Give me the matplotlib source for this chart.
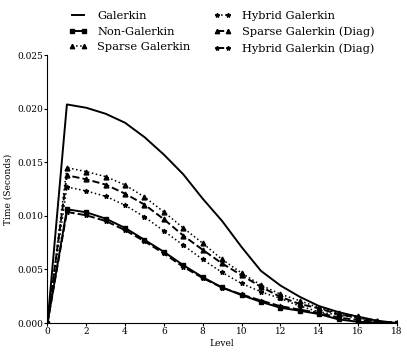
import matplotlib
matplotlib.use("Agg")
import matplotlib.pyplot as plt

levels = list(range(0, 19))

galerkin = [0.0, 0.02039, 0.02008, 0.01952, 0.01868, 0.01734, 0.01571, 0.01387, 0.0116,
            0.00952, 0.0071, 0.00487, 0.00351, 0.00245, 0.00158, 0.00102, 0.00059, 0.00021, 0.0]
non_galerkin = [0.0, 0.01061, 0.01033, 0.00974, 0.00887, 0.00776, 0.00664, 0.0054, 0.00428,
                0.00332, 0.00261, 0.00198, 0.00143, 0.00115, 0.00084, 0.00034, 0.00012, 0.00005, 0.0]
sparse_galerkin = [0.0, 0.0145, 0.01412, 0.01366, 0.01288, 0.01176, 0.01036, 0.00887, 0.00745,
                   0.00593, 0.00468, 0.00354, 0.0027, 0.00208, 0.00143, 0.0009, 0.00065, 0.0002, 0.0]
hybrid_galerkin = [0.0, 0.01269, 0.01232, 0.01182, 0.01099, 0.0099, 0.00859, 0.00726, 0.00593,
                   0.00472, 0.0037, 0.00291, 0.0023, 0.00158, 0.00105, 0.00074, 0.00047, 0.00015, 0.0]
sparse_diag = [0.0, 0.01378, 0.01341, 0.01291, 0.01207, 0.01105, 0.00968, 0.00816, 0.00683,
               0.00556, 0.00447, 0.00338, 0.00245, 0.00177, 0.00137, 0.00081, 0.00053, 0.0002, 0.0]
hybrid_diag = [0.0, 0.01036, 0.01005, 0.00952, 0.00866, 0.00763, 0.00649, 0.00524, 0.0042,
               0.0033, 0.00267, 0.0021, 0.00158, 0.00125, 0.00095, 0.0005, 0.0003, 0.0001, 0.0]

xticks = [0, 2, 4, 6, 8, 10, 12, 14, 16, 18]
yticks = [0.000, 0.005, 0.010, 0.015, 0.020, 0.025]

plt.rcParams['font.family'] = ['DejaVu Serif']

fig = plt.figure(figsize=(4.07, 3.55), dpi=100)
ax = fig.add_axes([0.1167, 0.09, 0.858, 0.755])

ms = 3.5
ax.plot(levels, galerkin, '-', color='black', lw=1.4, label='Galerkin')
ax.plot(levels, non_galerkin, '-', color='black', lw=1.4, marker='s', ms=ms, label='Non-Galerkin')
ax.plot(levels, sparse_galerkin, ':', color='black', lw=1.1, marker='^', ms=ms, label='Sparse Galerkin')
ax.plot(levels, hybrid_galerkin, ':', color='black', lw=1.1, marker='*', ms=ms, label='Hybrid Galerkin')
ax.plot(levels, sparse_diag, '--', color='black', lw=1.4, marker='^', ms=ms, label='Sparse Galerkin (Diag)')
ax.plot(levels, hybrid_diag, '--', color='black', lw=1.4, marker='*', ms=ms, label='Hybrid Galerkin (Diag)')

ax.set_xlim(0, 18)
ax.set_ylim(0, 0.025)
ax.set_xticks(xticks)
ax.set_yticks(yticks)
ax.set_yticklabels(['%.3f' % v for v in yticks])
ax.tick_params(labelsize=6.5, direction='out', length=2, pad=0.8, top=False, right=False)
ax.spines['top'].set_visible(False)
ax.spines['right'].set_visible(False)
ax.set_xlabel('Level', fontsize=6.5, labelpad=2)
ax.set_ylabel('Time (Seconds)', fontsize=6.5, labelpad=4)

fig.legend(*ax.get_legend_handles_labels(), loc='upper left',
           bbox_to_anchor=(69 / 407, 1 - 11 / 355), ncol=2, frameon=False,
           fontsize=8.2, handlelength=1.6, handletextpad=0.9, numpoints=2,
           columnspacing=2.0, labelspacing=0.5, borderaxespad=0.0, borderpad=0.0,
           markerscale=0.9)

fig.savefig('out.png', dpi=100)
